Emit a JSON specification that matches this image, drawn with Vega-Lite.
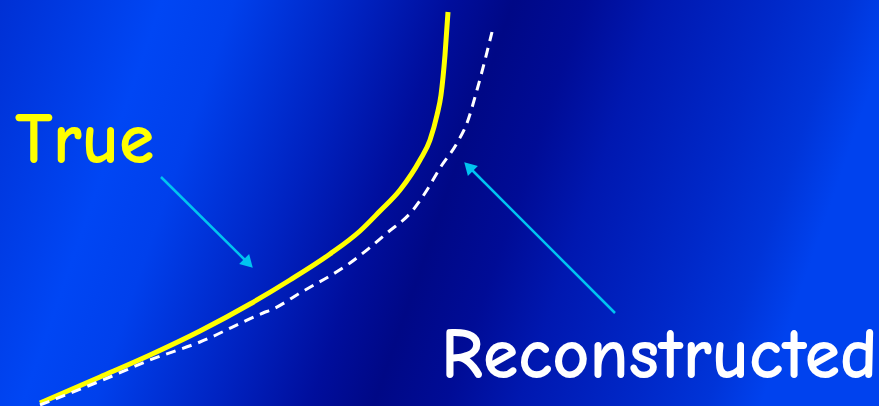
{
  "$schema": "https://vega.github.io/schema/vega-lite/v6.json",
  "width": 879,
  "height": 406,
  "autosize": "none",
  "padding": 0,
  "background": "#0018b0",
  "config": {"view": {"stroke": null}},
  "datasets": {
    "bg": [{"x0": 0, "x1": 879, "y0": 0, "y1": 406}],
    "truecurve": [
      {"i": 0, "x": 40, "y": 403}, {"i": 1, "x": 100, "y": 377}, {"i": 2, "x": 150, "y": 355},
      {"i": 3, "x": 200, "y": 331}, {"i": 4, "x": 250, "y": 304}, {"i": 5, "x": 290, "y": 280},
      {"i": 6, "x": 330, "y": 254}, {"i": 7, "x": 360, "y": 231}, {"i": 8, "x": 380, "y": 211},
      {"i": 9, "x": 400, "y": 190}, {"i": 10, "x": 420, "y": 160}, {"i": 11, "x": 430, "y": 140},
      {"i": 12, "x": 437, "y": 115}, {"i": 13, "x": 441, "y": 95}, {"i": 14, "x": 445, "y": 55},
      {"i": 15, "x": 448, "y": 12}
    ],
    "recon": [
      {"i": 0, "x": 40, "y": 405}, {"i": 1, "x": 110, "y": 377}, {"i": 2, "x": 150, "y": 360},
      {"i": 3, "x": 200, "y": 342}, {"i": 4, "x": 263, "y": 313}, {"i": 5, "x": 273, "y": 309},
      {"i": 6, "x": 300, "y": 293}, {"i": 7, "x": 350, "y": 263}, {"i": 8, "x": 387, "y": 233},
      {"i": 9, "x": 413, "y": 210}, {"i": 10, "x": 427, "y": 190}, {"i": 11, "x": 440, "y": 168},
      {"i": 12, "x": 457, "y": 143}, {"i": 13, "x": 467, "y": 123}, {"i": 14, "x": 477, "y": 90},
      {"i": 15, "x": 485, "y": 60}, {"i": 16, "x": 492, "y": 32}
    ],
    "arrows": [
      {"id": "a1", "x": 161, "y": 177, "x2": 247, "y2": 262},
      {"id": "a2", "x": 615, "y": 313, "x2": 470, "y2": 168}
    ],
    "labels": [
      {"t": "True", "x": 15, "y": 163},
      {"t": "Reconstructed", "x": 441, "y": 378}
    ]
  },
  "encoding": {},
  "layer": [
    {
      "data": {"name": "bg"},
      "mark": {
        "type": "rect",
        "fill": {
          "gradient": "linear", "x1": 0, "x2": 1, "y1": 0, "y2": 0.16,
          "stops": [
            {"offset": 0, "color": "#0030d4"},
            {"offset": 0.18, "color": "#0046f4"},
            {"offset": 0.26, "color": "#0040ec"},
            {"offset": 0.4, "color": "#0022c0"},
            {"offset": 0.5, "color": "#000e9c"},
            {"offset": 0.57, "color": "#000886"},
            {"offset": 0.65, "color": "#000c96"},
            {"offset": 0.73, "color": "#0018b0"},
            {"offset": 0.86, "color": "#0028c8"},
            {"offset": 0.94, "color": "#0034d8"},
            {"offset": 1, "color": "#0042ee"}
          ]
        }
      },
      "encoding": {
        "x": {"field": "x0", "type": "quantitative", "scale": {"domain": [0, 879], "nice": false, "zero": false}, "axis": null},
        "x2": {"field": "x1"},
        "y": {"field": "y0", "type": "quantitative", "scale": {"domain": [0, 406], "nice": false, "zero": false, "reverse": true}, "axis": null},
        "y2": {"field": "y1"}
      }
    },
    {
      "data": {"name": "truecurve"},
      "mark": {"type": "line", "color": "#ffff00", "strokeWidth": 5, "interpolate": "monotone"},
      "encoding": {
        "x": {"field": "x", "type": "quantitative"},
        "y": {"field": "y", "type": "quantitative"},
        "order": {"field": "i"}
      }
    },
    {
      "data": {"name": "recon"},
      "mark": {"type": "line", "color": "#ffffff", "strokeWidth": 3, "strokeDash": [10, 7], "interpolate": "monotone"},
      "encoding": {
        "x": {"field": "x", "type": "quantitative"},
        "y": {"field": "y", "type": "quantitative"},
        "order": {"field": "i"}
      }
    },
    {
      "data": {"name": "arrows"},
      "mark": {"type": "rule", "color": "#00c4f0", "strokeWidth": 2.5},
      "encoding": {
        "x": {"field": "x", "type": "quantitative"},
        "y": {"field": "y", "type": "quantitative"},
        "x2": {"field": "x2"},
        "y2": {"field": "y2"}
      }
    },
    {
      "data": {"name": "arrows"},
      "transform": [{"filter": "datum.id === 'a1'"}],
      "mark": {"type": "point", "shape": "triangle", "filled": true, "color": "#00c4f0", "opacity": 1, "size": 200, "angle": 135},
      "encoding": {
        "x": {"field": "x2", "type": "quantitative"},
        "y": {"field": "y2", "type": "quantitative"}
      }
    },
    {
      "data": {"name": "arrows"},
      "transform": [{"filter": "datum.id === 'a2'"}],
      "mark": {"type": "point", "shape": "triangle", "filled": true, "color": "#00c4f0", "opacity": 1, "size": 200, "angle": 315},
      "encoding": {
        "x": {"field": "x2", "type": "quantitative"},
        "y": {"field": "y2", "type": "quantitative"}
      }
    },
    {
      "data": {"name": "labels"},
      "mark": {"type": "text", "align": "left", "baseline": "alphabetic", "font": "Comic Sans MS, Comic Neue, Open Sans", "fontSize": 72, "fontWeight": "bold"},
      "encoding": {
        "x": {"field": "x", "type": "quantitative"},
        "y": {"field": "y", "type": "quantitative"},
        "text": {"field": "t"},
        "color": {"field": "t", "type": "nominal", "scale": {"domain": ["True", "Reconstructed"], "range": ["#ffff00", "#ffffff"]}, "legend": null}
      }
    }
  ]
}
